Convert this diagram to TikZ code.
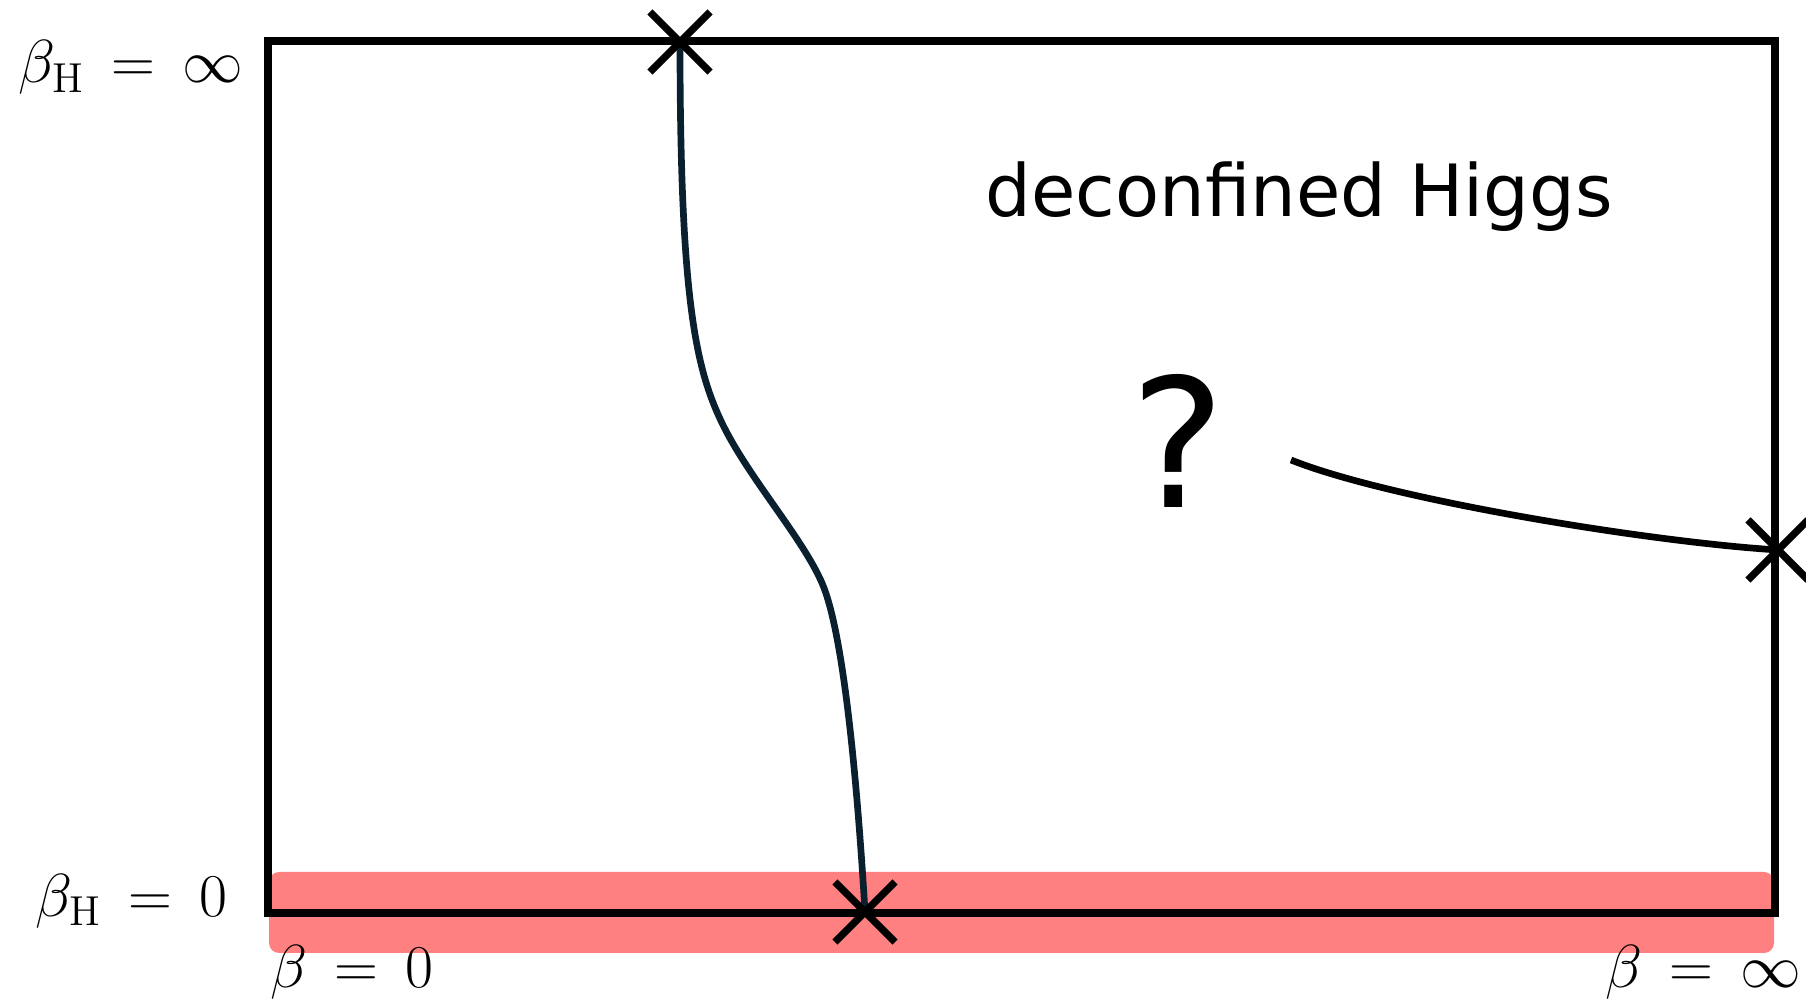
\documentclass[tikz,border=0pt]{standalone}
\usepackage{fontspec}
\usepackage{tikz}
\usetikzlibrary{shapes.misc}
\newfontfamily\phasefont{DejaVu Sans}
\definecolor{trancol}{RGB}{10,32,46}

\begin{document}
\begin{tikzpicture}[
  x=0.01cm, y=-0.01cm,
  frame/.style={draw=black, line width=2.1pt},
  band/.style={fill=red!50, rounded corners=0.1cm},
  tline/.style={draw=trancol, line width=1.9pt},
  xmark/.style={cross out, draw=black, line width=2.1pt,
                minimum size=0.6cm, inner sep=0pt, outer sep=0pt},
  axlabel/.style={font=\fontsize{17}{20}\selectfont, inner sep=0pt},
  phase/.style={font=\phasefont\fontsize{20.5}{24}\selectfont, inner sep=0pt},
]
  \useasboundingbox (0,0) rectangle (1806,1001);

  % Highlighted edge beta_H = 0
  \path[band] (269,872) rectangle (1774,953);

  % Phase diagram frame
  \draw[frame] (268,41) rectangle (1775,913);

  % Endpoints of the transition lines
  \coordinate (ptop) at (680,42);
  \coordinate (pbot) at (865,912);
  \coordinate (pright) at (1778,550);
  \coordinate (pfree) at (1291,460);

  % Transition lines
  \draw[tline] (ptop) .. controls (680,300) and (696,369) .. (722,423)
    .. controls (748,477) and (802,537) .. (822,583)
    .. controls (842,629) and (856,762) .. (pbot);
  \draw[line width=1.9pt] (pfree) .. controls (1391,500) and (1650,542) .. (pright);

  % Crosses
  \node[xmark] (xtop) at (ptop) {};
  \node[xmark] (xbot) at (pbot) {};
  \node[xmark] (xright) at (pright) {};

  % Labels
  \node[phase, anchor=base west] (higgs) at (985,217) {deconfined Higgs};
  \node[font=\phasefont\fontsize{51}{60}\selectfont, inner sep=0pt, anchor=base]
    (unknown) at (1178,508) {?};
  \node[axlabel, anchor=base west] (bhinf) at (18,83) {$\beta_{\mathrm{H}} \,=\, \infty$};
  \node[axlabel, anchor=base east] (bhzero) at (228,916) {$\beta_{\mathrm{H}} \,=\, 0$};
  \node[axlabel, anchor=base west] (bzero) at (270,988) {$\beta \,=\, 0$};
  \node[axlabel, anchor=base east] (binf) at (1802,988) {$\beta \,=\, \infty$};
\end{tikzpicture}
\end{document}
